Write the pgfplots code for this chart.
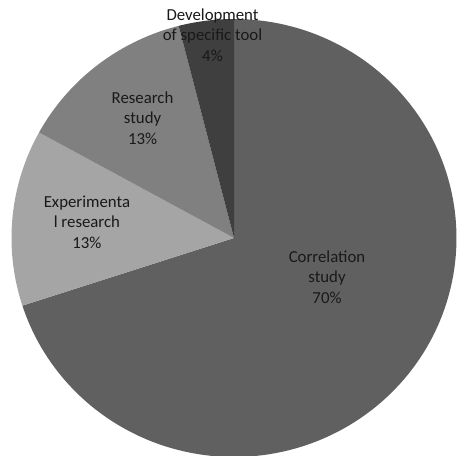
\documentclass[border=0pt]{standalone}
\usepackage{pgfplots}
\usepackage{pgfplotstable}
\pgfplotsset{compat=1.18}
\usepackage{fontspec}
\setmainfont{Carlito}

\definecolor{sliceA}{HTML}{606060}
\definecolor{sliceB}{HTML}{A5A5A5}
\definecolor{sliceC}{HTML}{808080}
\definecolor{sliceD}{HTML}{3F3F3F}

\tikzset{pielabel/.style={font=\fontsize{16.8}{20.5}\selectfont, align=center, text=black!90, inner sep=0pt}}

% Share of studies per type (percent), clockwise from 12 o'clock
\pgfplotstableread{
share
70
13
13
4
}\piedata

\pgfplotstablegetelem{0}{share}\of\piedata \let\sA\pgfplotsretval
\pgfplotstablegetelem{1}{share}\of\piedata \let\sB\pgfplotsretval
\pgfplotstablegetelem{2}{share}\of\piedata \let\sC\pgfplotsretval
\pgfplotstablegetelem{3}{share}\of\piedata \let\sD\pgfplotsretval
% boundary angles in degrees
\pgfmathsetmacro\tZ{90}
\pgfmathsetmacro\tA{\tZ-3.6*\sA}
\pgfmathsetmacro\tB{\tA-3.6*\sB}
\pgfmathsetmacro\tC{\tB-3.6*\sC}
\pgfmathsetmacro\tD{\tC-3.6*\sD}

\begin{document}
\begin{tikzpicture}
\begin{axis}[
  x=222.5pt, y=219pt,
  xmin=-1.0517, xmax=1.00225,
  ymin=-0.99543, ymax=1.08676,
  axis lines=none, ticks=none,
  clip=true,
  every axis plot/.append style={draw=none, samples=150},
]
% keep the full plot area as the picture's extent
\path (rel axis cs:0,0) rectangle (rel axis cs:1,1);
\addplot[fill=sliceA, domain=\tA:\tZ] ({cos(x)},{sin(x)}) -- (axis cs:0,0) -- cycle;
\addplot[fill=sliceB, domain=\tB:\tA] ({cos(x)},{sin(x)}) -- (axis cs:0,0) -- cycle;
\addplot[fill=sliceC, domain=\tC:\tB] ({cos(x)},{sin(x)}) -- (axis cs:0,0) -- cycle;
\addplot[fill=sliceD, domain=\tD:\tC] ({cos(x)},{sin(x)}) -- (axis cs:0,0) -- cycle;

\node[pielabel] at (axis cs:0.418,-0.178) {Correlation\\study\\\sA\%};
\node[pielabel] at (axis cs:-0.661,0.073) {Experimenta\\l research\\\sB\%};
\node[pielabel] at (axis cs:-0.411,0.548) {Research\\study\\\sC\%};
\node[pielabel] at (axis cs:-0.0966,0.927) {Development\\of specific tool\\\sD\%};
\end{axis}
\end{tikzpicture}
\end{document}
